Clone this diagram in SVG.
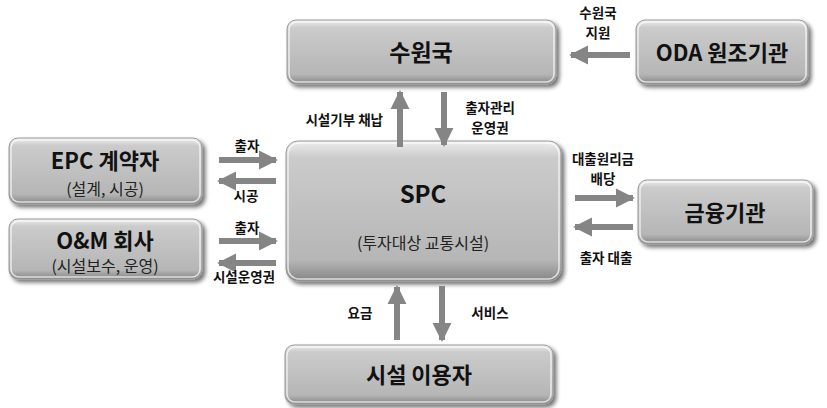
<svg xmlns="http://www.w3.org/2000/svg" width="827" height="408" viewBox="0 0 827 408">
<defs>
<linearGradient id="g" x1="0" y1="0" x2="0" y2="1">
<stop offset="0" stop-color="#eeeeee"/>
<stop offset="0.12" stop-color="#cbcbcb"/>
<stop offset="0.85" stop-color="#b6b6b6"/>
<stop offset="1" stop-color="#858585"/>
</linearGradient>
<filter id="sh" x="-10%" y="-10%" width="125%" height="130%">
<feGaussianBlur in="SourceAlpha" stdDeviation="2"/>
<feOffset dx="3" dy="3"/>
<feComponentTransfer><feFuncA type="linear" slope="0.55"/></feComponentTransfer>
<feMerge><feMergeNode/><feMergeNode in="SourceGraphic"/></feMerge>
</filter>
<marker id="ah" viewBox="0 0 10 10" refX="9" refY="5" markerWidth="3.2" markerHeight="3.2" orient="auto" markerUnits="strokeWidth">
<path d="M0,0 L10,5 L0,10 z" fill="#858585"/>
</marker>
</defs>
<style>
.box{fill:url(#g);stroke:#9a9a9a;stroke-width:1;filter:url(#sh)}
.hl{fill:none;stroke:#ffffff;stroke-opacity:0.7;stroke-width:1.5}
.t{font-family:"Noto Sans CJK KR","Liberation Sans",sans-serif;font-weight:bold;fill:#111;text-anchor:middle}
.s{font-family:"Noto Sans CJK KR","Liberation Sans",sans-serif;fill:#222;text-anchor:middle;font-size:16px}
.l{font-family:"Noto Sans CJK KR","Liberation Sans",sans-serif;font-weight:bold;fill:#111;font-size:13.5px;text-anchor:middle}
.a{stroke:#858585;stroke-width:6;fill:none;marker-end:url(#ah)}
</style>
<g id="node-suwon">
<rect class="box" x="287" y="20" width="269" height="64" rx="9"/>
<rect class="hl" x="289" y="22" width="265" height="60" rx="8"/>
<text class="t" x="421" y="61" font-size="23">수원국</text>
</g>
<g id="node-oda">
<rect class="box" x="636" y="20" width="172" height="64" rx="9"/>
<rect class="hl" x="638" y="22" width="168" height="60" rx="8"/>
<text class="t" x="722" y="61" font-size="22">ODA 원조기관</text>
</g>
<g id="node-epc">
<rect class="box" x="9" y="138" width="193" height="66" rx="9"/>
<rect class="hl" x="11" y="140" width="189" height="62" rx="8"/>
<text class="t" x="105" y="169" font-size="22">EPC 계약자</text>
<text class="s" x="105" y="195">(설계, 시공)</text>
</g>
<g id="node-om">
<rect class="box" x="9" y="219" width="193" height="60" rx="9"/>
<rect class="hl" x="11" y="221" width="189" height="56" rx="8"/>
<text class="t" x="105" y="249" font-size="22">O&amp;M 회사</text>
<text class="s" x="105" y="272">(시설보수, 운영)</text>
</g>
<g id="node-spc">
<rect class="box" x="286" y="141" width="275" height="140" rx="12"/>
<rect class="hl" x="288" y="143" width="271" height="136" rx="11"/>
<text class="t" x="423" y="203" font-size="24">SPC</text>
<text class="s" x="423" y="249">(투자대상 교통시설)</text>
</g>
<g id="node-fin">
<rect class="box" x="638" y="180" width="175" height="64" rx="9"/>
<rect class="hl" x="640" y="182" width="171" height="60" rx="8"/>
<text class="t" x="725" y="221" font-size="22">금융기관</text>
</g>
<g id="node-user">
<rect class="box" x="285" y="345" width="268" height="59" rx="9"/>
<rect class="hl" x="287" y="347" width="264" height="55" rx="8"/>
<text class="t" x="419" y="383" font-size="22">시설 이용자</text>
</g>
<g id="connectors">
<line class="a" x1="630" y1="55" x2="571" y2="55"/>
<line class="a" x1="400" y1="147" x2="400" y2="92"/>
<line class="a" x1="444" y1="92" x2="444" y2="145"/>
<line class="a" x1="219" y1="160" x2="276" y2="160"/>
<line class="a" x1="276" y1="181" x2="219" y2="181"/>
<line class="a" x1="219" y1="241" x2="276" y2="241"/>
<line class="a" x1="276" y1="263" x2="219" y2="263"/>
<line class="a" x1="575" y1="198" x2="633" y2="198"/>
<line class="a" x1="633" y1="227" x2="575" y2="227"/>
<line class="a" x1="397" y1="340" x2="397" y2="287"/>
<line class="a" x1="442" y1="286" x2="442" y2="340"/>
</g>
<g id="labels">
<text class="l" x="598" y="18">수원국</text>
<text class="l" x="598" y="38">지원</text>
<text class="l" x="383" y="125" style="text-anchor:end">시설기부 채납</text>
<text class="l" x="490" y="113">출자관리</text>
<text class="l" x="490" y="133">운영권</text>
<text class="l" x="247" y="151">출자</text>
<text class="l" x="246" y="201">시공</text>
<text class="l" x="247" y="233">출자</text>
<text class="l" x="244" y="282">시설운영권</text>
<text class="l" x="603" y="164">대출원리금</text>
<text class="l" x="603" y="184">배당</text>
<text class="l" x="606" y="263">출자 대출</text>
<text class="l" x="360" y="318">요금</text>
<text class="l" x="490" y="318">서비스</text>
</g>
</svg>
